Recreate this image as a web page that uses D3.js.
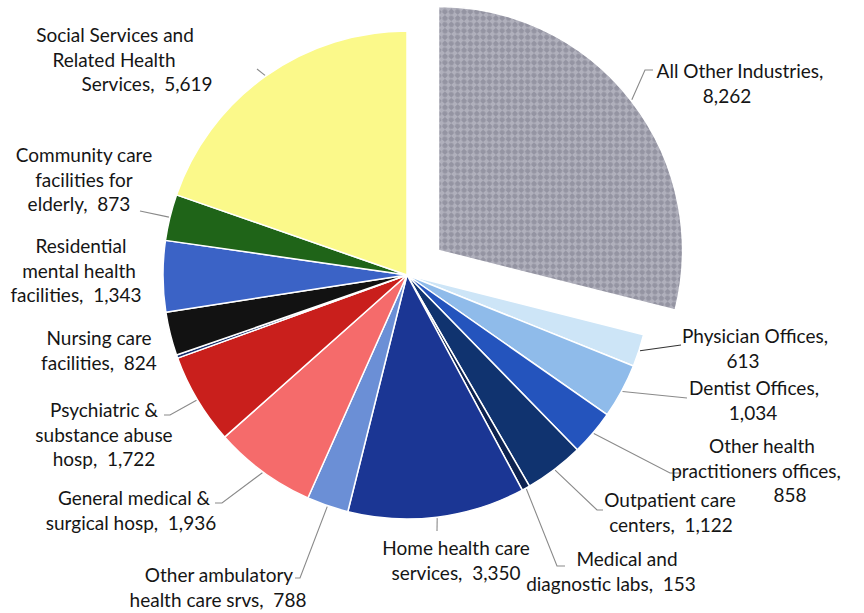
<!DOCTYPE html>
<html>
<head>
<meta charset="utf-8">
<script src="https://cdn.jsdelivr.net/npm/d3@7"></script>
<style>
  body { margin: 0; background: #fff; }
  svg text { font-family: Lato, "Open Sans", sans-serif; font-size: 19px; fill: #151515; white-space: pre; }
</style>
</head>
<body>
<svg width="864" height="613"></svg>
<script>

// slice order is clockwise from 12 o'clock
var names = [
    "All Other Industries",
    "Physician Offices",
    "Dentist Offices",
    "Other health practitioners offices",
    "Outpatient care centers",
    "Medical and diagnostic labs",
    "Home health care services",
    "Other ambulatory health care srvs",
    "General medical & surgical hosp",
    "Psychiatric & substance abuse hosp",
    "",
    "Nursing care facilities",
    "Residential mental health facilities",
    "Community care facilities for elderly",
    "Social Services and Related Health Services"
];
var values = [8262, 613, 1034, 858, 1122, 153, 3350, 788, 1936, 1722, 60, 824, 1343, 873, 5619];

// wrapped label text, {v} gets the formatted value
var labelText = [
    ["All Other Industries,", "{v}"],
    ["Physician Offices,", "{v}"],
    ["Dentist Offices,", "{v}"],
    ["Other health", "practitioners offices,", "{v}"],
    ["Outpatient care", "centers,  {v}"],
    ["Medical and", "diagnostic labs,  {v}"],
    ["Home health care", "services,  {v}"],
    ["Other ambulatory", "health care srvs,  {v}"],
    ["General medical &", "surgical hosp,  {v}"],
    ["Psychiatric &", "substance abuse", "hosp,  {v}"],
    [],
    ["Nursing care", "facilities,  {v}"],
    ["Residential", "mental health", "facilities,  {v}"],
    ["Community care", "facilities for", "elderly,  {v}"],
    ["Social Services and", "Related Health", "Services,  {v}"]
];

var colors = ["url(#hatch)", "#cde5f7", "#8fbbea", "#2454bd", "#10336f", "#0d2250",
    "#1b3694", "#6b8fd6", "#f56b6b", "#c91f1c", "#17306e", "#121212",
    "#3b63c6", "#1f6418", "#fbf98a"];

var svg = d3.select("svg"),
    cx = 407, cy = 275,
    radius = 244,
    explode = 40,
    lineH = 24.5;

// label placement: centre x of each line, first baseline, leader bend points
var labelPos = [
    {x: [740, 727], y: 78, leader: [[645, 70], [653, 70]]},
    {x: [755, 743], y: 343, leader: [[681, 345]], dark: true},
    {x: [754, 753], y: 395, leader: [[687, 398]]},
    {x: [762, 756, 790], y: 453, leader: [[670, 473], [680, 473]]},
    {x: [670, 671], y: 507, leader: [[597, 510], [603, 510]]},
    {x: [627, 611], y: 566, leader: [[557, 566], [565, 566]]},
    {x: [456, 456], y: 555, leader: [[437, 531]]},
    {x: [219, 218], y: 582, leader: [[300, 578], [295, 578]]},
    {x: [134, 131], y: 505, leader: [[222, 503], [215, 503]]},
    {x: [104, 104, 104], y: 417, leader: [[170, 415], [164, 415]]},
    null,
    {x: [99, 99], y: 345},
    {x: [81, 79, 76], y: 253},
    {x: [84, 84, 79], y: 162, leader: [[140, 211]]},
    {x: [115, 114, 147], y: 42, leader: [[257, 69]]}
];

var defs = svg.append("defs");
var pat = defs.append("pattern")
    .attr("id", "hatch")
    .attr("patternUnits", "userSpaceOnUse")
    .attr("width", 9).attr("height", 9)
    .attr("patternTransform", "rotate(45)");
pat.append("rect").attr("width", 9).attr("height", 9).attr("fill", "#b0b0bc");
pat.append("circle").attr("cx", 2.25).attr("cy", 2.25).attr("r", 2.6).attr("fill", "#9494a2");
pat.append("circle").attr("cx", 6.75).attr("cy", 6.75).attr("r", 2.6).attr("fill", "#9494a2");

var data = values.map(function(v, i) { return {name: names[i], value: v, i: i}; });

var pie = d3.pie().sort(null).value(function(d) { return d.value; });
var arcs = pie(data);

var arc = d3.arc().innerRadius(0).outerRadius(radius);
var fmt = d3.format(",");

function offset(d) {
    if (d.index !== 0) return [0, 0];
    var a = (d.startAngle + d.endAngle) / 2;
    return [Math.sin(a) * explode, -Math.cos(a) * explode];
}

var g = svg.append("g").attr("transform", "translate(" + cx + "," + cy + ")");

g.selectAll("path.slice")
    .data(arcs)
    .enter().append("path")
    .attr("class", "slice")
    .attr("transform", function(d) { var o = offset(d); return "translate(" + o[0] + "," + o[1] + ")"; })
    .attr("d", arc)
    .attr("fill", function(d) { return colors[d.index]; })
    .attr("stroke", "#fff")
    .attr("stroke-width", 1.5)
    .attr("stroke-linejoin", "round");

// leader lines, start on the slice rim at mid angle
var line = d3.line();
arcs.forEach(function(d) {
    var lp = labelPos[d.index];
    if (!lp || !lp.leader) return;
    var a = (d.startAngle + d.endAngle) / 2,
        o = offset(d),
        r = radius + 1;
    var start = [cx + o[0] + Math.sin(a) * r, cy + o[1] - Math.cos(a) * r];
    svg.append("path")
        .attr("d", line([start].concat(lp.leader)))
        .attr("fill", "none")
        .attr("stroke", lp.dark ? "#333" : "#8a8a8a")
        .attr("stroke-width", 1.1);
});

// labels
arcs.forEach(function(d) {
    var lp = labelPos[d.index];
    if (!lp) return;
    var t = svg.append("text").attr("text-anchor", "middle");
    labelText[d.index].forEach(function(s, k) {
        t.append("tspan")
            .attr("x", lp.x[k])
            .attr("y", lp.y + k * lineH)
            .text(s.replace("{v}", fmt(d.data.value)));
    });
});

</script>
</body>
</html>
